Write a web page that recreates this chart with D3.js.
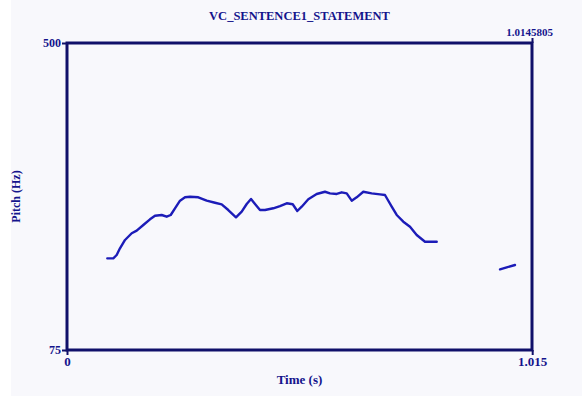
<!DOCTYPE html>
<html><head><meta charset="utf-8">
<script src="https://cdn.jsdelivr.net/npm/d3@7"></script>
<style>
html,body{margin:0;padding:0;background:#fff;}
svg{display:block;}
text{font-family:"Liberation Serif","Times New Roman",serif;font-weight:bold;fill:#14148c;}
</style></head>
<body>
<svg id="chart" width="582" height="396"></svg>
<script>
const title = "VC_SENTENCE1_STATEMENT";
const xLabel = "Time (s)";
const yLabel = "Pitch (Hz)";
const xDomain = [0, 1.0145805];
const yDomain = [75, 500];
const yTicks = [75, 500];
const xTicks = [0, 1.015];
const topTick = [1.0145805];

const times1 = [0.0879,0.1010,0.1084,0.1156,0.1266,0.1412,0.1521,0.1665,0.1811,0.1920,0.2066,0.2175,0.2263,0.2356,0.2466,0.2575,0.2684,0.2865,0.3048,0.3229,0.3375,0.3519,0.3687,0.3812,0.3921,0.4015,0.4102,0.4211,0.4320,0.4501,0.4647,0.4794,0.4925,0.5025,0.5121,0.5265,0.5448,0.5629,0.5738,0.5885,0.5994,0.6103,0.6212,0.6321,0.6465,0.6648,0.6829,0.6938,0.6982,0.7085,0.7194,0.7338,0.7484,0.7630,0.7811,0.8067];
const pitch1 = [201.9,201.9,206.5,215.8,227.3,236.6,240.2,248.0,255.9,260.9,261.9,259.5,261.9,271.2,281.7,286.4,287.2,286.4,281.7,278.9,276.7,268.8,258.7,266.5,277.1,284.0,277.1,268.8,268.8,271.2,274.3,278.1,276.7,267.4,273.4,283.6,291.0,294.1,291.9,291.0,293.3,291.9,281.7,286.4,294.1,291.9,290.5,289.6,284.7,273.4,261.9,252.6,245.7,234.2,224.9,224.9];
const times2 = [0.9448,0.9594,0.9775];
const pitch2 = [186.7,189.5,192.7];

const svg = d3.select("#chart");
const W = 582, H = 396;
const m = {left:67, right:50, top:43, bottom:46};

svg.append("rect").attr("x",11).attr("y",0).attr("width",W-11).attr("height",H).attr("fill","#f8f8fc");

const x = d3.scaleLinear().domain(xDomain).range([m.left, W - m.right]);
const y = d3.scaleLinear().domain(yDomain).range([H - m.bottom, m.top]);

const ink = "#10106a";

// curves
const line = d3.line().x(d => x(d[0])).y(d => y(d[1]));
const seg1 = times1.map((t,i)=>[t,pitch1[i]]);
const seg2 = times2.map((t,i)=>[t,pitch2[i]]);
[seg1, seg2].forEach(s => {
  svg.append("path").datum(s).attr("d", line)
    .attr("fill","none").attr("stroke","#1c1cb8").attr("stroke-width",2.4)
    .attr("stroke-linejoin","round").attr("stroke-linecap","round");
});

// axes
const yAx = svg.append("g").attr("transform",`translate(${m.left},0)`)
  .call(d3.axisLeft(y).tickValues(yTicks).tickSize(5).tickPadding(1).tickFormat(d3.format("d")));
const xAx = svg.append("g").attr("transform",`translate(0,${H - m.bottom})`)
  .call(d3.axisBottom(x).tickValues(xTicks).tickSize(5).tickPadding(2).tickFormat(d => d === 0 ? "0" : d3.format(".3f")(d)));
const tAx = svg.append("g").attr("transform",`translate(0,${m.top})`)
  .call(d3.axisTop(x).tickValues(topTick).tickSize(5).tickPadding(2).tickFormat(d3.format(".7f")));
[yAx,xAx,tAx].forEach(g => {
  g.select(".domain").remove();
  g.selectAll("line").attr("stroke",ink).attr("stroke-width",2);
  g.selectAll("text").attr("fill","#14148c").style("font-family","'Liberation Serif',serif").style("font-weight","bold");
});
yAx.selectAll("text").style("font-size","12px");
xAx.selectAll("text").style("font-size","13px");
tAx.selectAll("text").style("font-size","11px").attr("dx","-3");

// frame
svg.append("rect").attr("x",x(xDomain[0])).attr("y",y(yDomain[1]))
  .attr("width",x(xDomain[1])-x(xDomain[0])).attr("height",y(yDomain[0])-y(yDomain[1]))
  .attr("fill","none").attr("stroke",ink).attr("stroke-width",3);

// title and labels
svg.append("text").attr("x",(m.left + W - m.right)/2).attr("y",19.5)
  .attr("text-anchor","middle").style("font-size","12.5px").text(title);
svg.append("text").attr("x",(m.left + W - m.right)/2).attr("y",384)
  .attr("text-anchor","middle").style("font-size","13px").text(xLabel);
svg.append("text").attr("transform",`translate(20,${(m.top + H - m.bottom)/2}) rotate(-90)`)
  .attr("text-anchor","middle").style("font-size","12px").text(yLabel);
</script>
</body></html>
